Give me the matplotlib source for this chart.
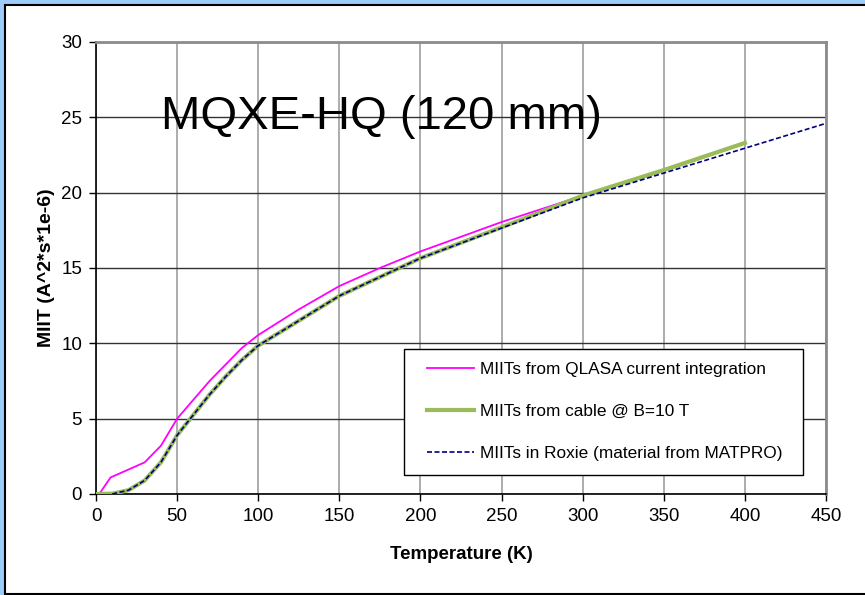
import matplotlib
matplotlib.use('Agg')
import matplotlib.pyplot as plt
from matplotlib.patches import Rectangle

plt.rcParams['font.family'] = ['Liberation Sans', 'DejaVu Sans']

# MIITs from QLASA current integration
t_qlasa = [2, 9, 30, 40, 50, 60, 70, 80, 90, 100, 125, 150, 175, 200, 250, 300]
miit_qlasa = [0, 1.1, 2.1, 3.2, 5.0, 6.25, 7.5, 8.6, 9.7, 10.55, 12.25, 13.8, 15.0, 16.1, 18.05, 19.8]

# MIITs from cable @ B=10 T
t_cable = [0, 10, 20, 30, 40, 50, 60, 70, 80, 90, 100, 125, 150, 175, 200, 250, 300, 350, 400]
miit_cable = [0, 0.02, 0.25, 0.9, 2.1, 3.9, 5.25, 6.6, 7.8, 8.9, 9.85, 11.5, 13.15, 14.4, 15.65, 17.7, 19.8, 21.5, 23.3]

# MIITs in Roxie
t_roxie = [10, 20, 30, 40, 50, 60, 70, 80, 90, 100, 125, 150, 175, 200, 250, 300, 350, 400, 450]
miit_roxie = [0, 0.25, 0.9, 2.1, 3.9, 5.25, 6.6, 7.8, 8.9, 9.85, 11.5, 13.15, 14.4, 15.65, 17.65, 19.65, 21.3, 22.95, 24.6]

labels = ['MIITs from QLASA current integration',
          'MIITs from cable @ B=10 T',
          'MIITs in Roxie (material from MATPRO)']

W, H = 865, 595
fig = plt.figure(figsize=(8.65, 5.95), dpi=100)
fig.patch.set_facecolor('#9DCBFB')
fig.patches.append(Rectangle((5/W, 1/H), 1.0, 1 - 5/H - 1/H, transform=fig.transFigure,
                             facecolor='white', edgecolor='black', linewidth=1.5, zorder=-10))

ax = fig.add_axes([96/W, 101/H, 730/W, 452/H])
ax.set_facecolor('white')

ax.plot(t_qlasa, miit_qlasa, color='#FF00FF', lw=1.3, label=labels[0], zorder=3)
ax.plot(t_cable, miit_cable, color='#9BBB59', lw=3, label=labels[1], zorder=4)
ax.plot(t_roxie, miit_roxie, color='#000080', lw=1.2, ls=(0, (3, 1.5)), label=labels[2], zorder=5)

ax.set_xlim(0, 450)
ax.set_ylim(0, 30)
ax.set_xticks(range(0, 451, 50))
ax.set_yticks(range(0, 31, 5))
ax.tick_params(labelsize=13.5, length=5, width=1, direction='out', pad=5)

ax.grid(axis='x', color='#A6A6A6', lw=1.3)
ax.grid(axis='y', color='#333333', lw=1.0)
ax.set_axisbelow(True)

for s in ['left', 'bottom']:
    ax.spines[s].set_color('black')
    ax.spines[s].set_linewidth(1.2)
for s in ['top', 'right']:
    ax.spines[s].set_color('#8C8C8C')
    ax.spines[s].set_linewidth(2)

ax.set_xlabel('Temperature (K)', fontsize=13.5, fontweight='bold')
ax.set_ylabel('MIIT (A^2*s*1e-6)', fontsize=14, fontweight='bold')
ax.xaxis.set_label_coords(0.5, -0.115)
ax.yaxis.set_label_coords(-0.056, 0.5)

ax.text(0.089, 0.807, 'MQXE-HQ (120 mm)', transform=ax.transAxes, fontsize=34, va='baseline', ha='left')

# legend frame drawn separately, legend entries placed inside it
ax.add_patch(Rectangle((404/W, 1 - 475/H), 399/W, 126/H, transform=fig.transFigure,
                       facecolor='white', edgecolor='black', linewidth=1.0, zorder=6, clip_on=False))
leg = ax.legend(loc='upper left', bbox_to_anchor=(427/W, 1 - 362/H), bbox_transform=fig.transFigure,
                fontsize=12.4, frameon=False, labelspacing=1.56, handlelength=2.7,
                handletextpad=0.35, borderpad=0, borderaxespad=0)
leg.set_zorder(7)

fig.savefig('out.png', dpi=100, facecolor=fig.get_facecolor())
